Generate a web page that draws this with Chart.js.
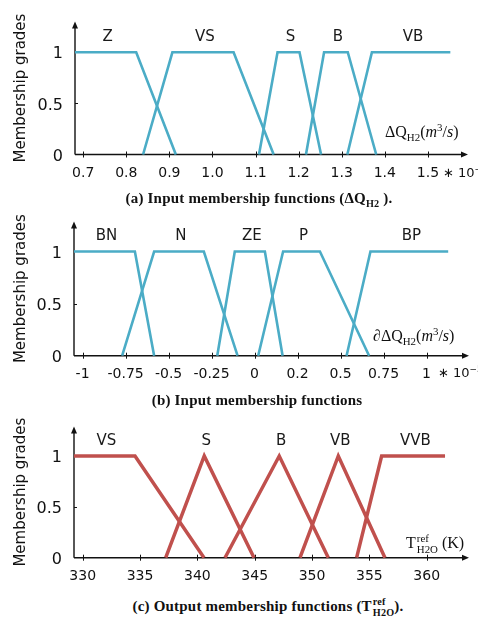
<!DOCTYPE html>
<html>
<head>
<meta charset="utf-8">
<script src="https://cdn.jsdelivr.net/npm/chart.js@4/dist/chart.umd.min.js"></script>
<style>
  html, body { margin: 0; padding: 0; background: #fff; }
  body { position: relative; width: 478px; height: 617px; overflow: hidden; }
  canvas { position: absolute; left: 0; }
  .t { position: absolute; white-space: nowrap; line-height: 1; color: #111; }
  .ax { font-family: "Liberation Serif", "DejaVu Serif", serif; font-size: 16px; }
  .mul { font-family: "DejaVu Sans", sans-serif; font-size: 13px; }
  .cap { font-family: "Liberation Serif", serif; font-weight: bold; font-size: 15px; transform: translateX(-50%); letter-spacing: 0.2px; }
  sub, sup { font-size: 68%; line-height: 0; }
  .stack { display: inline-block; vertical-align: middle; font-size: 68%; line-height: 1.05; text-align: left; margin-left: 1px; }
  .stack span { display: block; }
</style>
</head>
<body>
<canvas id="c1" width="478" height="190" style="top:0px"></canvas>
<canvas id="c2" width="478" height="190" style="top:200px"></canvas>
<canvas id="c3" width="478" height="190" style="top:405px"></canvas>

<div class="t ax" style="left:385px; top:124px">&Delta;Q<sub>H2</sub>(<i>m</i><sup>3</sup>/<i>s</i>)</div>
<div class="t mul" style="left:443px; top:166px">&lowast; 10<sup>&minus;4</sup></div>
<div class="t cap" style="left:259px; top:191px">(a) Input membership functions (&Delta;Q<sub>H2</sub> ).</div>

<div class="t ax" style="left:373px; top:328px">&part;&Delta;Q<sub>H2</sub>(<i>m</i><sup>3</sup>/<i>s</i>)</div>
<div class="t mul" style="left:438px; top:366px">&lowast; 10<sup>&minus;5</sup></div>
<div class="t cap" style="left:257px; top:393px">(b) Input membership functions</div>

<div class="t ax" style="left:406px; top:533px">T<span class="stack"><span>ref</span><span>H2O</span></span> (K)</div>
<div class="t cap" style="left:268px; top:597px">(c) Output membership functions (T<span class="stack"><span>ref</span><span>H2O</span></span>).</div>

<script>
// ---- (a) input ΔQ_H2 membership functions (×1e-4 m³/s) ----
const flowNames = ['Z', 'VS', 'S', 'B', 'VB'];
const flowZ  = [[0.681, 1], [0.823, 1], [0.915, 0]];
const flowVS = [[0.839, 0], [0.907, 1], [1.049, 1], [1.142, 0]];
const flowS  = [[1.108, 0], [1.151, 1], [1.202, 1], [1.252, 0]];
const flowB  = [[1.217, 0], [1.259, 1], [1.314, 1], [1.380, 0]];
const flowVB = [[1.313, 0], [1.370, 1], [1.552, 1]];
const flowTicks = [0.7, 0.8, 0.9, 1.0, 1.1, 1.2, 1.3, 1.4, 1.5];
const flowTickLabels = ['0.7', '0.8', '0.9', '1.0', '1.1', '1.2', '1.3', '1.4', '1.5'];

// ---- (b) input ∂ΔQ_H2 membership functions (×1e-5 m³/s) ----
const rateNames = ['BN', 'N', 'ZE', 'P', 'BP'];
const rateBN = [[-1.05, 1], [-0.696, 1], [-0.584, 0]];
const rateN  = [[-0.770, 0], [-0.584, 1], [-0.295, 1], [-0.099, 0]];
const rateZE = [[-0.217, 0], [-0.115, 1], [0.060, 1], [0.163, 0]];
const rateP  = [[0.021, 0], [0.166, 1], [0.380, 1], [0.666, 0]];
const rateBP = [[0.535, 0], [0.674, 1], [1.126, 1]];
const rateTicks = [-1, -0.75, -0.5, -0.25, 0, 0.25, 0.5, 0.75, 1];
const rateTickLabels = ['-1', '-0.75', '-0.5', '-0.25', '0', '0.2', '0.5', '0.75', '1'];

// ---- (c) output T_H2O^ref membership functions (K) ----
const tempNames = ['VS', 'S', 'B', 'VB', 'VVB'];
const tempVS  = [[329.24, 1], [334.56, 1], [340.58, 0]];
const tempS   = [[337.24, 0], [340.60, 1], [344.94, 0]];
const tempB   = [[342.41, 0], [347.14, 1], [351.42, 0]];
const tempVB  = [[348.95, 0], [352.29, 1], [356.36, 0]];
const tempVVB = [[353.89, 0], [356.07, 1], [361.60, 1]];
const tempTicks = [330, 335, 340, 345, 350, 355, 360];
const tempTickLabels = ['330', '335', '340', '345', '350', '355', '360'];

// membership grade axis
const gradeTicks = [0, 0.5, 1];
const gradeTickLabels = ['0', '0.5', '1'];

const SANS = '"DejaVu Sans", Verdana, sans-serif';

// Axes with arrow heads, tick marks, and set names above each plateau / peak
const fuzzyAxes = {
  id: 'fuzzyAxes',
  beforeDatasetsDraw(chart) {
    const { ctx, chartArea: a, scales: { x, y } } = chart;
    const y0 = y.getPixelForValue(0);
    ctx.save();
    ctx.strokeStyle = '#111';
    ctx.fillStyle = '#111';
    ctx.lineWidth = 1.4;
    ctx.beginPath();
    ctx.moveTo(a.left, y0); ctx.lineTo(a.right - 4, y0);
    ctx.moveTo(a.left, y0); ctx.lineTo(a.left, a.top + 4);
    ctx.stroke();
    // arrow heads
    ctx.beginPath();
    ctx.moveTo(a.right, y0); ctx.lineTo(a.right - 7, y0 - 3); ctx.lineTo(a.right - 7, y0 + 3); ctx.closePath();
    ctx.moveTo(a.left, a.top); ctx.lineTo(a.left - 3, a.top + 7); ctx.lineTo(a.left + 3, a.top + 7); ctx.closePath();
    ctx.fill();
    // tick marks
    ctx.lineWidth = 1;
    ctx.beginPath();
    x.ticks.forEach(t => {
      const px = Math.round(x.getPixelForValue(t.value)) + 0.5;
      ctx.moveTo(px, y0 - 3); ctx.lineTo(px, y0 + 3);
    });
    const yh = Math.round(y.getPixelForValue(0.5)) + 0.5;
    ctx.moveTo(a.left, yh); ctx.lineTo(a.left + 3, yh);
    ctx.stroke();
    ctx.restore();
  },
  afterDraw(chart) {
    const { ctx, scales: { x, y } } = chart;
    ctx.save();
    ctx.font = '15px ' + SANS;
    ctx.fillStyle = '#1a1a1a';
    ctx.textAlign = 'center';
    ctx.textBaseline = 'middle';
    chart.data.datasets.forEach(ds => {
      const top = ds.data.filter(p => p.y === 1);
      const cx = top.reduce((s, p) => s + p.x, 0) / top.length;
      ctx.fillText(ds.label, x.getPixelForValue(cx) + 2, y.getPixelForValue(1) - 15);
    });
    ctx.restore();
  }
};

function makePanel(id, names, sets, color, width, xMin, xMax, ticks, tickLabels, pad, xAxisHeight, yMax) {
  return new Chart(document.getElementById(id), {
    type: 'line',
    data: {
      datasets: sets.map((pts, i) => ({
        label: names[i],
        data: pts.map(p => ({ x: p[0], y: p[1] })),
        borderColor: color,
        borderWidth: width,
        pointRadius: 0,
        tension: 0,
        fill: false,
        clip: false,
        borderJoinStyle: 'miter'
      }))
    },
    options: {
      responsive: false,
      animation: false,
      devicePixelRatio: 1,
      layout: { padding: pad },
      plugins: { legend: { display: false }, tooltip: { enabled: false } },
      scales: {
        x: {
          type: 'linear', min: xMin, max: xMax,
          grid: { display: false, drawTicks: false },
          border: { display: false },
          afterBuildTicks: s => { s.ticks = ticks.map(v => ({ value: v })); },
          afterFit: s => { s.height = xAxisHeight; },
          ticks: {
            autoSkip: false, maxRotation: 0, padding: 10,
            color: '#111', font: { family: SANS, size: 14 },
            callback: (v, i) => tickLabels[i]
          }
        },
        y: {
          type: 'linear', min: 0, max: yMax,
          grid: { display: false, drawTicks: false },
          border: { display: false },
          afterBuildTicks: s => { s.ticks = gradeTicks.map(v => ({ value: v })); },
          afterFit: s => { s.width = pad.yw; },
          title: {
            display: true, text: 'Membership grades', color: '#111',
            font: { family: SANS, size: 15 }, padding: { top: 12, bottom: 0 }
          },
          ticks: {
            padding: 12, labelOffset: 2,
            color: '#111', font: { family: SANS, size: 16 },
            callback: (v, i) => gradeTickLabels[i]
          }
        }
      }
    },
    plugins: [fuzzyAxes]
  });
}

const BLUE = '#4BACC6';
const RED = '#C0504D';

makePanel('c1', flowNames, [flowZ, flowVS, flowS, flowB, flowVB], BLUE, 2.6,
  0.681, 1.593, flowTicks, flowTickLabels,
  { left: 0, right: 10, top: 13, bottom: 0, yw: 75 }, 35.5, 1.30);

makePanel('c2', rateNames, [rateBN, rateN, rateZE, rateP, rateBP], BLUE, 2.6,
  -1.05, 1.247, rateTicks, rateTickLabels,
  { left: 0, right: 9, top: 16.7, bottom: 0, yw: 74 }, 34.3, 1.287);

makePanel('c3', tempNames, [tempVS, tempS, tempB, tempVB, tempVVB], RED, 3.5,
  329.24, 363.69, tempTicks, tempTickLabels,
  { left: 0, right: 9, top: 13, bottom: 0, yw: 74 }, 37.3, 1.289);
</script>
</body>
</html>
